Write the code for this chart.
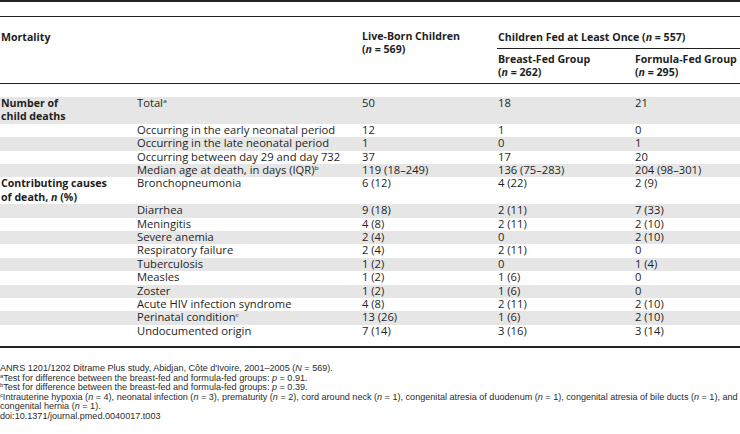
<!DOCTYPE html>
<html>
<head>
<meta charset="utf-8">
<script src="https://cdn.jsdelivr.net/npm/chart.js@4/dist/chart.umd.min.js"></script>
<style>
  html, body { margin: 0; padding: 0; background: #fff; }
  body { width: 740px; height: 434px; position: relative; overflow: hidden;
         font-family: "Open Sans", "Noto Sans", sans-serif; color: #1e1e1e; font-size: 10.5px; }
  .abs { position: absolute; white-space: nowrap; line-height: 13.4px; }
  .r { transform: scale(1.066, 0.95); transform-origin: left center; }
  .b { font-weight: bold; font-size: 10.6px; }
  .line { position: absolute; left: 0; background: #222; }
  .band { position: absolute; left: 0; width: 740px; background: #e6e6e6; }
  sup { font-size: 6.5px; vertical-align: 0; position: relative; top: -4px; }
  .foot { position: absolute; left: 0; white-space: nowrap; font-family: "Liberation Sans Narrow", "Liberation Sans", sans-serif;
          font-size: 9.2px; line-height: 9.6px; transform-origin: left center; color: #2a2a2a; }
  .foot sup { font-size: 5.8px; top: -3px; }
</style>
</head>
<body>
<div id="root"></div>
<script>
// ---- data ----
const groupLabels = ["Number of<br>child deaths", "Contributing causes<br>of death, <i>n</i> (%)"];
const groupStartRow = [0, 5];
const rowLabels = [
  "Total<sup>a</sup>",
  "Occurring in the early neonatal period",
  "Occurring in the late neonatal period",
  "Occurring between day 29 and day 732",
  "Median age at death, in days (IQR)<sup>b</sup>",
  "Bronchopneumonia",
  "Diarrhea",
  "Meningitis",
  "Severe anemia",
  "Respiratory failure",
  "Tuberculosis",
  "Measles",
  "Zoster",
  "Acute HIV infection syndrome",
  "Perinatal condition<sup>c</sup>",
  "Undocumented origin"
];
const liveBorn = ["50", "12", "1", "37", "119 (18–249)", "6 (12)", "9 (18)", "4 (8)", "2 (4)", "2 (4)", "1 (2)", "1 (2)", "1 (2)", "4 (8)", "13 (26)", "7 (14)"];
const breastFed = ["18", "1", "0", "17", "136 (75–283)", "4 (22)", "2 (11)", "2 (11)", "0", "2 (11)", "0", "1 (6)", "1 (6)", "2 (11)", "1 (6)", "3 (16)"];
const formulaFed = ["21", "0", "1", "20", "204 (98–301)", "2 (9)", "7 (33)", "2 (10)", "2 (10)", "0", "1 (4)", "0", "0", "2 (10)", "2 (10)", "3 (14)"];
const headerMortality = "Mortality";
const headerLiveBorn = "Live-Born Children<br>(<i>n</i> = 569)";
const headerFed = "Children Fed at Least Once (<i>n</i> = 557)";
const headerBreast = "Breast-Fed Group<br>(<i>n</i> = 262)";
const headerFormula = "Formula-Fed Group<br>(<i>n</i> = 295)";
const footnotes = [
  "ANRS 1201/1202 Ditrame Plus study, Abidjan, Côte d'Ivoire, 2001–2005 (<i>N</i> = 569).",
  "<sup>a</sup>Test for difference between the breast-fed and formula-fed groups: <i>p</i> = 0.91.",
  "<sup>b</sup>Test for difference between the breast-fed and formula-fed groups: <i>p</i> = 0.39.",
  "<sup>c</sup>Intrauterine hypoxia (<i>n</i> = 4), neonatal infection (<i>n</i> = 3), prematurity (<i>n</i> = 2), cord around neck (<i>n</i> = 1), congenital atresia of duodenum (<i>n</i> = 1), congenital atresia of bile ducts (<i>n</i> = 1), and",
  "congenital hernia (<i>n</i> = 1).",
  "doi:10.1371/journal.pmed.0040017.t003"
];

// ---- layout ----
const root = document.getElementById('root');
const colX = [1, 137, 362, 498, 635];
function el(cls, html, x, y, extra) {
  const d = document.createElement('div');
  d.className = cls;
  d.innerHTML = html || "";
  d.style.left = x + 'px';
  d.style.top = y + 'px';
  if (extra) Object.assign(d.style, extra);
  root.appendChild(d);
  return d;
}
function hline(y, h, x0, x1) {
  el('line', '', x0, y, { height: h + 'px', width: (x1 - x0) + 'px' });
}

hline(0, 2, 0, 740);
hline(16, 1, 0, 740);
hline(83, 1, 0, 740);
hline(48, 1, 497, 740);

el('abs b', headerMortality, colX[0], 31);
el('abs b', headerLiveBorn, colX[2], 30);
el('abs b', headerFed, colX[3], 31);
el('abs b', headerBreast, colX[3], 53);
el('abs b', headerFormula, colX[4], 53);

// rows
const rowH = 13.4;
const twoLine = new Set(groupStartRow);
let y = 97;
rowLabels.forEach((lab, i) => {
  const h = twoLine.has(i) ? rowH * 2 : rowH;
  if (i % 2 === 0) el('band', '', 0, y, { height: h + 'px' });
  const g = groupStartRow.indexOf(i);
  if (g >= 0) el('abs b', groupLabels[g], colX[0], y);
  el('abs r', lab, colX[1], y);
  el('abs r', liveBorn[i], colX[2], y);
  el('abs r', breastFed[i], colX[3], y);
  el('abs r', formulaFed[i], colX[4], y);
  y += h;
});
hline(346, 2, 0, 740);

const footEls = footnotes.map((t, i) => el('foot', t, 0, 364 + i * 9.6));
// fit the longest footnote line to the page width, same factor for all lines
const widest = Math.max(...footEls.map(e => e.scrollWidth));
const sx = 738 / widest;
footEls.forEach(e => { e.style.transform = 'scaleX(' + sx + ')'; });
</script>
</body>
</html>
